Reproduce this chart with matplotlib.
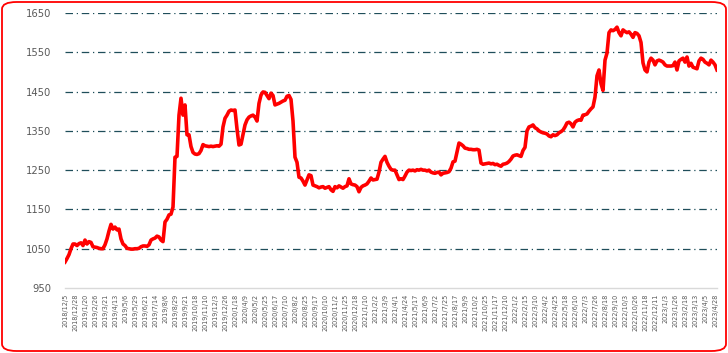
import matplotlib
matplotlib.use("Agg")
import matplotlib.pyplot as plt
from matplotlib.patches import FancyBboxPatch

tick_labels = [
    "2018/12/5", "2018/12/28", "2019/1/20", "2019/2/26", "2019/3/21", "2019/4/13",
    "2019/5/6", "2019/5/29", "2019/6/21", "2019/7/14", "2019/8/6", "2019/8/29",
    "2019/9/21", "2019/10/18", "2019/11/10", "2019/12/3", "2019/12/26", "2020/1/18",
    "2020/4/9", "2020/5/2", "2020/5/25", "2020/6/17", "2020/7/10", "2020/8/2",
    "2020/8/25", "2020/9/17", "2020/10/10", "2020/11/2", "2020/11/25", "2020/12/18",
    "2021/1/10", "2021/2/2", "2021/3/9", "2021/4/1", "2021/4/24", "2021/5/17",
    "2021/6/9", "2021/7/2", "2021/7/25", "2021/8/17", "2021/9/9", "2021/10/2",
    "2021/10/25", "2021/11/17", "2021/12/10", "2022/1/2", "2022/2/15", "2022/3/10",
    "2022/4/2", "2022/4/25", "2022/5/18", "2022/6/10", "2022/7/3", "2022/7/26",
    "2022/8/18", "2022/9/10", "2022/10/3", "2022/10/26", "2022/11/18", "2022/12/11",
    "2023/1/3", "2023/1/26", "2023/2/18", "2023/3/13", "2023/4/5", "2023/4/28",
]
points_per_label = 5

values = [
    1016, 1025, 1035, 1050, 1062, 1062, 1058, 1063, 1065, 1058,
    1072, 1062, 1068, 1066, 1055, 1054, 1053, 1051, 1050, 1050,
    1060, 1075, 1095, 1112, 1100, 1105, 1098, 1100, 1075, 1062,
    1058, 1051, 1050, 1049, 1049, 1050, 1050, 1051, 1055, 1057,
    1057, 1056, 1060, 1072, 1075, 1077, 1082, 1080, 1072, 1068,
    1118, 1125, 1136, 1138, 1156, 1283, 1285, 1390, 1433, 1390,
    1416, 1340, 1340, 1310, 1295, 1291, 1290, 1292, 1300, 1315,
    1312, 1311, 1310, 1311, 1310, 1311, 1312, 1311, 1316, 1360,
    1382, 1390, 1400, 1403, 1402, 1403, 1355, 1314, 1316, 1340,
    1365, 1378, 1385, 1388, 1390, 1385, 1375, 1420, 1441, 1449,
    1448, 1440, 1432, 1446, 1440, 1416, 1418, 1420, 1423, 1426,
    1428, 1438, 1440, 1430, 1375, 1283, 1270, 1232, 1230, 1222,
    1212, 1225, 1238, 1236, 1212, 1210, 1208, 1205, 1207, 1208,
    1204, 1206, 1208, 1200, 1196, 1208, 1205, 1210, 1207, 1204,
    1208, 1210, 1228, 1215, 1213, 1212, 1208, 1195, 1206, 1210,
    1212, 1215, 1222, 1230, 1225, 1226, 1227, 1245, 1270, 1278,
    1285, 1270, 1260, 1252, 1250, 1250, 1238, 1226, 1228, 1226,
    1235, 1245, 1250, 1249, 1250, 1248, 1251, 1250, 1252, 1250,
    1250, 1248, 1250, 1245, 1243, 1242, 1244, 1245, 1238, 1242,
    1243, 1244, 1246, 1255, 1271, 1273, 1296, 1319, 1316, 1312,
    1306, 1305, 1303, 1303, 1302, 1302, 1303, 1301, 1268, 1265,
    1266, 1267, 1268, 1266, 1267, 1264, 1265, 1262, 1260, 1265,
    1266, 1268, 1272, 1278, 1286, 1288, 1289, 1287, 1285, 1300,
    1308, 1350, 1360, 1362, 1365, 1358, 1355, 1350, 1347, 1345,
    1344, 1342, 1337, 1335, 1340, 1338, 1340, 1345, 1348, 1352,
    1360, 1370, 1372, 1368, 1360, 1372, 1376, 1378, 1377, 1390,
    1391, 1393, 1400, 1406, 1411, 1436, 1490, 1505, 1470, 1453,
    1530, 1548, 1600, 1607, 1605, 1608, 1614, 1600, 1592, 1607,
    1603, 1600, 1602, 1596, 1588, 1600, 1598, 1592, 1575, 1523,
    1505, 1500, 1525, 1535, 1530, 1518, 1528, 1530, 1528, 1525,
    1518, 1515, 1515, 1515, 1516, 1525, 1505, 1528, 1532, 1535,
    1525, 1538, 1515, 1522, 1512, 1510, 1508, 1528, 1535, 1532,
    1525, 1522, 1518, 1530, 1525, 1518, 1505,
]

y_ticks = [950, 1050, 1150, 1250, 1350, 1450, 1550, 1650]

W, H = 728, 353
fig = plt.figure(figsize=(W / 100, H / 100), dpi=100)
fig.patch.set_facecolor("white")

ax = fig.add_axes([65 / W, (H - 288) / H, (717 - 65) / W, (288 - 13) / H])
x = list(range(len(values)))
ax.plot(x, values, color="#FF0000", lw=2.6, solid_joinstyle="round", zorder=3)

ax.set_ylim(950, 1650)
ax.set_xlim(0, len(values) - 1)
ax.set_yticks(y_ticks)
ax.set_yticklabels([str(v) for v in y_ticks], fontsize=7.2, color="#595959")
for v in y_ticks[1:]:
    ax.axhline(v, color="#1F4E5A", lw=0.9, ls=(0, (6, 3, 1, 3)), zorder=1)

tick_pos = [i * points_per_label for i in range(len(tick_labels))]
ax.set_xticks(tick_pos)
ax.set_xticklabels(tick_labels, rotation=90, fontsize=4.7, color="#595959")
ax.tick_params(axis="both", length=0)
ax.tick_params(axis="x", pad=4)
ax.tick_params(axis="y", pad=10)

for s in ["top", "right", "left"]:
    ax.spines[s].set_visible(False)
ax.spines["bottom"].set_color("#D9D9D9")
ax.spines["bottom"].set_linewidth(1.0)

border = FancyBboxPatch((2 / W, 2 / H), (W - 4) / W, (H - 4) / H,
                        boxstyle="round,pad=0,rounding_size=0.02",
                        transform=fig.transFigure, fill=False,
                        edgecolor="#FF0000", lw=1.3)
fig.patches.append(border)

fig.savefig("out.png", dpi=100)
